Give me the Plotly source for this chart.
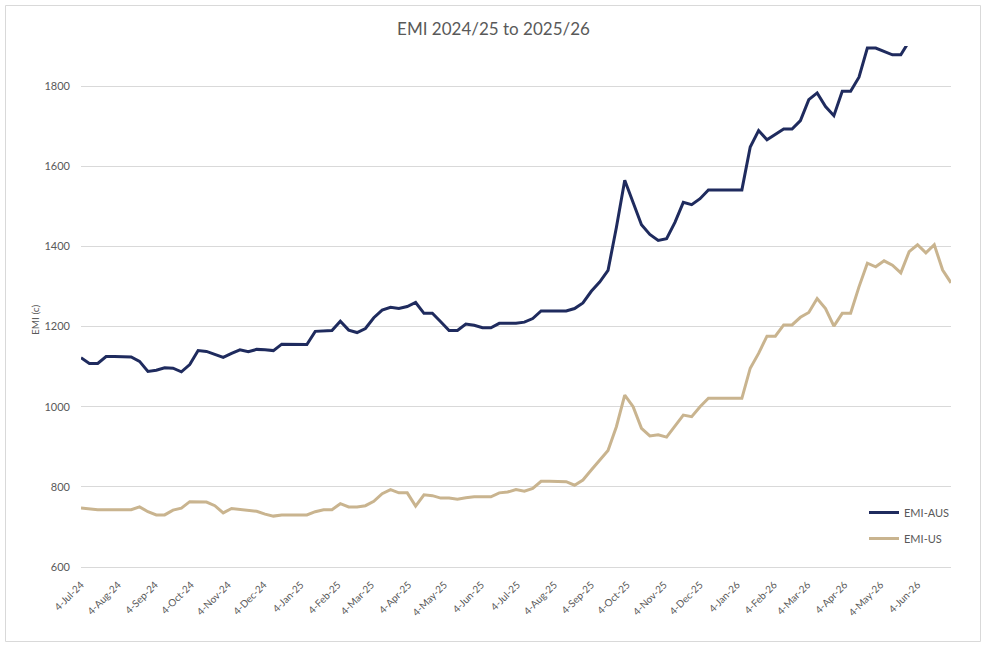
import pandas as pd
import plotly.graph_objects as go

# ---- data (weekly) ----
start_date = "2024-07-04"
emi_aus = [
    1122, 1108, 1108, 1125, 1125, 1125, 1124, 1113, 1088, 1091,
    1097, 1096, 1087, 1105, 1140, 1138, 1130, 1123, 1133, 1142,
    1137, 1143, 1142, 1140, 1156, 1156, 1156, 1155, 1188, 1189,
    1190, 1213, 1191, 1185, 1195, 1222, 1241, 1248, 1245, 1250,
    1260, 1233, 1233, 1212, 1190, 1190, 1206, 1203, 1197, 1197,
    1208, 1208, 1208, 1211, 1220, 1239, 1239, 1239, 1239, 1245,
    1259, 1288, 1311, 1340, 1447, 1565, 1512, 1454, 1430, 1415,
    1419, 1460, 1510, 1504, 1519, 1541, 1541, 1541, 1541, 1541,
    1648, 1689, 1666, 1679, 1693, 1693, 1714, 1766, 1783, 1749,
    1726, 1787, 1787, 1822, 1895, 1895, 1886, 1878, 1878, 1912,
]
emi_us = [
    747, 745, 743, 743, 743, 743, 743, 750, 738, 730,
    730, 742, 747, 763, 763, 762, 753, 735, 746, 744,
    741, 739, 732, 727, 730, 730, 730, 730, 738, 743,
    743, 758, 750, 750, 753, 764, 783, 793, 785, 785,
    752, 780, 778, 772, 772, 769, 773, 775, 775, 775,
    785, 787, 793, 789, 796, 814, 814, 814, 813, 804,
    817, 842, 866, 891, 950, 1029, 1000, 946, 927, 930,
    924, 952, 979, 975, 1000, 1021, 1021, 1021, 1021, 1021,
    1096, 1133, 1176, 1176, 1204, 1204, 1223, 1235, 1270, 1245,
    1201, 1233, 1233, 1299, 1358, 1349, 1364, 1353, 1334, 1387,
    1404, 1384, 1404, 1341, 1309,
]
tick_dates = pd.date_range("2024-07-01", "2026-06-01", freq="MS") + pd.Timedelta(days=3)
tick_labels = [
    "4-Jul-24", "4-Aug-24", "4-Sep-24", "4-Oct-24", "4-Nov-24", "4-Dec-24",
    "4-Jan-25", "4-Feb-25", "4-Mar-25", "4-Apr-25", "4-May-25", "4-Jun-25",
    "4-Jul-25", "4-Aug-25", "4-Sep-25", "4-Oct-25", "4-Nov-25", "4-Dec-25",
    "4-Jan-26", "4-Feb-26", "4-Mar-26", "4-Apr-26", "4-May-26", "4-Jun-26",
]
y_ticks = [600, 800, 1000, 1200, 1400, 1600, 1800]

dates_us = pd.date_range(start_date, periods=len(emi_us), freq="7D")
dates_aus = dates_us[:len(emi_aus)]

FONT = "Lato"
GREY = "#595959"
AUS_COLOR = "#1F2B5E"
US_COLOR = "#C9B48F"

fig = go.Figure()
fig.add_trace(go.Scatter(x=dates_aus, y=emi_aus, mode="lines", name="EMI-AUS",
                         legendgroup="a",
                         line=dict(color=AUS_COLOR, width=3)))
fig.add_trace(go.Scatter(x=dates_us, y=emi_us, mode="lines", name="EMI-US",
                         legendgroup="b",
                         line=dict(color=US_COLOR, width=3)))

fig.update_layout(
    width=987, height=648,
    margin=dict(l=81, r=36, t=46, b=81, autoexpand=False),
    paper_bgcolor="white", plot_bgcolor="white",
    font=dict(family=FONT, color=GREY),
    title=dict(text="EMI 2024/25 to 2025/26", x=0.5, xanchor="center",
               y=1 - 29 / 648, yanchor="middle",
               font=dict(family=FONT, size=17, color=GREY)),
    showlegend=True,
    legend=dict(x=0.900, y=0.1324, xanchor="left", yanchor="top",
                bgcolor="rgba(0,0,0,0)", font=dict(size=11, color=GREY),
                traceorder="grouped", tracegroupgap=7, itemwidth=30),
    shapes=[dict(type="rect", xref="paper", yref="paper",
                 x0=(5.5 - 81) / 870, x1=(980.5 - 81) / 870,
                 y0=(567 - 641.5) / 521, y1=(567 - 5.5) / 521,
                 line=dict(color="#D9D9D9", width=1), layer="below")],
    annotations=[dict(text="EMI (c)", xref="paper", yref="paper",
                      x=(35 - 81) / 870, y=(567 - 320) / 521,
                      xanchor="center", yanchor="middle",
                      textangle=-90, showarrow=False,
                      font=dict(family=FONT, size=10, color=GREY))],
)
fig.update_xaxes(
    type="date",
    range=[dates_us[0], dates_us[-1]],
    tickmode="array", tickvals=tick_dates, ticktext=tick_labels,
    tickangle=-45, tickfont=dict(size=10, color=GREY),
    showgrid=False, showline=True, linecolor="#D9D9D9", linewidth=1,
    ticks="", zeroline=False, ticklabelstandoff=7,
)
fig.update_yaxes(
    range=[600, 1900], tickmode="array", tickvals=y_ticks,
    tickfont=dict(size=11, color=GREY),
    showgrid=True, gridcolor="#D9D9D9", gridwidth=1,
    zeroline=False, showline=False, ticks="", ticklabelstandoff=10,
)

fig.write_html("out.html", config={"displayModeBar": False},
               post_script="document.body.style.margin='0px';")
